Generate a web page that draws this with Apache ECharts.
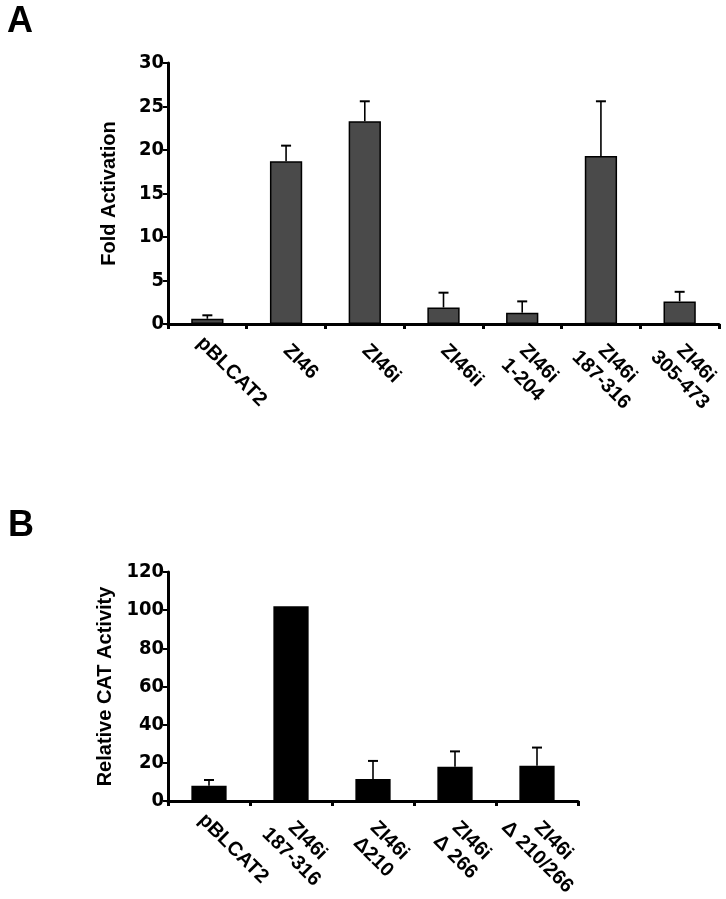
<!DOCTYPE html>
<html>
<head>
<meta charset="utf-8">
<script src="https://cdn.jsdelivr.net/npm/echarts@6/dist/echarts.min.js"></script>
<style>
html,body{margin:0;padding:0;background:#fff;}
#chart{width:726px;height:899px;}
</style>
</head>
<body>
<div id="chart"></div>
<script>
// Panel A data
const catsA = ['pBLCAT2', 'ZI46', 'ZI46i', 'ZI46ii', 'ZI46i\n1-204', 'ZI46i\n187-316', 'ZI46i\n305-473'];
const valuesA = [0.6, 18.7, 23.3, 1.9, 1.3, 19.3, 2.6];
const errTopA = [1.0, 20.5, 25.6, 3.6, 2.6, 25.6, 3.7];
const ticksA = [0, 5, 10, 15, 20, 25, 30];

// Panel B data
const catsB = ['pBLCAT2', 'ZI46i\n187-316', 'ZI46i\n\u0394210', 'ZI46i\n\u0394 266', 'ZI46i\n\u0394 210/266'];
const valuesB = [8, 102, 11.5, 18, 18.5];
const errTopB = [11, null, 21, 26, 28];
const ticksB = [0, 20, 40, 60, 80, 100, 120];

const chart = echarts.init(document.getElementById('chart'), null, {renderer: 'canvas'});

const tickFont = '"Liberation Sans Narrow", "DejaVu Sans Condensed", "Liberation Sans", Arial, sans-serif';
const textFont = '"Liberation Sans", Arial, Helvetica, sans-serif';
const labelFontSize = 20;

// centred multi-line labels whose first line starts next to the tick
const measureCtx = document.createElement('canvas').getContext('2d');
measureCtx.font = 'bold ' + labelFontSize + 'px ' + textFont;
function labelItems(cats) {
  return cats.map(function (c) {
    const first = c.split('\n')[0];
    const w = measureCtx.measureText(first).width;
    const shift = first.charAt(0) === 'p' ? 1 : 12;
    return {
      value: c,
      textStyle: {
        align: 'center', verticalAlign: 'top',
        padding: [0, 0, 0, Math.max(0, w + 2 * shift)]
      }
    };
  });
}

function errItem(params, api) {
  const top = api.value(2);
  if (top === null || top === undefined || isNaN(top)) return null;
  const p0 = api.coord([api.value(0), api.value(1)]);
  const p1 = api.coord([api.value(0), top]);
  const style = {stroke: '#000', lineWidth: 1.6};
  return {
    type: 'group',
    children: [
      {type: 'line', shape: {x1: p0[0], y1: p0[1], x2: p1[0], y2: p1[1]}, style: style},
      {type: 'line', shape: {x1: p1[0] - 5, y1: p1[1], x2: p1[0] + 5, y2: p1[1]}, style: {stroke: '#000', lineWidth: 2}}
    ]
  };
}

function xAxisCfg(cats, gridIndex) {
  return {
    type: 'category', gridIndex: gridIndex, data: labelItems(cats),
    axisLine: {lineStyle: {color: '#000', width: 3}},
    axisTick: {show: true, length: 5, lineStyle: {color: '#000', width: 3}},
    axisLabel: {
      interval: 0, rotate: -45, margin: 7, color: '#000',
      fontFamily: textFont, fontWeight: 'bold', fontSize: labelFontSize, lineHeight: 23
    }
  };
}

function yAxisCfg(gridIndex, max, interval, name) {
  return {
    type: 'value', gridIndex: gridIndex, min: 0, max: max, interval: interval,
    name: name, nameLocation: 'middle', nameGap: 49,
    nameTextStyle: {color: '#000', fontFamily: textFont, fontWeight: 'bold', fontSize: 20},
    axisLine: {show: true, lineStyle: {color: '#000', width: 3}},
    axisTick: {show: true, length: 5, lineStyle: {color: '#000', width: 2}},
    splitLine: {show: false},
    axisLabel: {color: '#000', fontFamily: tickFont, fontWeight: 'bold', fontSize: 20, margin: 4}
  };
}

const option = {
  backgroundColor: '#fff',
  animation: false,
  graphic: [
    {type: 'text', left: 7, top: 4, style: {text: 'A', font: 'bold 36px ' + textFont, fill: '#000'}},
    {type: 'text', left: 8, top: 508, style: {text: 'B', font: 'bold 36px ' + textFont, fill: '#000'}}
  ],
  grid: [
    {left: 168, top: 63, width: 551, height: 261, containLabel: false, outerBoundsMode: 'none'},
    {left: 168, top: 572, width: 410, height: 229, containLabel: false, outerBoundsMode: 'none'}
  ],
  xAxis: [xAxisCfg(catsA, 0), xAxisCfg(catsB, 1)],
  yAxis: [yAxisCfg(0, 30, 5, 'Fold Activation'), yAxisCfg(1, 120, 20, 'Relative CAT Activity')],
  series: [
    {
      type: 'bar', xAxisIndex: 0, yAxisIndex: 0, barWidth: '41%',
      data: valuesA,
      itemStyle: {color: '#4a4a4a', borderColor: '#000', borderWidth: 1.5}
    },
    {
      type: 'custom', xAxisIndex: 0, yAxisIndex: 0, z: 5,
      renderItem: errItem,
      data: valuesA.map((v, i) => [i, v, errTopA[i]])
    },
    {
      type: 'bar', xAxisIndex: 1, yAxisIndex: 1, barWidth: '43%',
      data: valuesB,
      itemStyle: {color: '#000'}
    },
    {
      type: 'custom', xAxisIndex: 1, yAxisIndex: 1, z: 5,
      renderItem: errItem,
      data: valuesB.map((v, i) => [i, v, errTopB[i]])
    }
  ]
};
chart.setOption(option);
</script>
</body>
</html>
